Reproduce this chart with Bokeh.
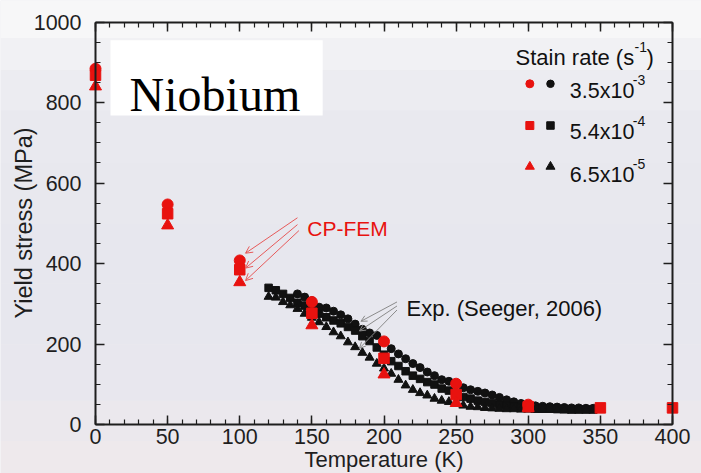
import math
from bokeh.plotting import figure
from bokeh.models import (Range1d, SingleIntervalTicker, LinearAxis, Arrow, OpenHead,
                          CustomJSTickFormatter)
from bokeh.core.properties import value
from bokeh.embed import file_html
from bokeh.resources import INLINE

FONT = "Liberation Sans"

# ---------------- data ----------------
# CP-FEM simulation (red)
cp_circle_T = [0, 50, 100, 150, 200, 250, 300]
cp_circle_Y = [884, 547, 408, 305, 207, 102, 50]
cp_square_T = [0, 50, 100, 150, 200, 250, 300, 350, 400]
cp_square_Y = [868, 524, 385, 277, 165, 75, 45, 42, 42]
cp_triangle_T = [0, 50, 100, 150, 200, 250, 300]
cp_triangle_Y = [840, 495, 354, 247, 125, 54, 42]

# Experiment (Seeger, 2006) (black)
exp_circle_T = [140, 145, 150, 155, 160, 165, 170, 175, 180, 185, 190, 195, 200, 205,
                210, 215, 220, 225, 230, 235, 240, 245, 250, 255, 260, 265, 270, 275,
                280, 285, 290, 295, 300, 305, 310, 315, 320, 325, 330, 335, 340, 345]
exp_circle_Y = [325, 317, 308, 292, 290, 282, 273, 263, 250, 237, 228, 222, 207, 189,
                176, 164, 152, 142, 131, 122, 112, 108, 100, 92, 87, 83, 79, 74,
                68, 62, 57, 53, 50, 47, 46, 45, 44, 43, 42, 42, 41, 41]
exp_square_T = [120, 125, 130, 135, 140, 145, 150, 155, 160, 165, 170, 175, 180, 185,
                190, 195, 200, 205, 210, 215, 220, 225, 230, 235, 240, 245, 250, 255,
                260, 265, 270, 275, 280, 285, 290, 295, 300, 305, 310, 315, 320, 325,
                330, 335, 340, 345]
exp_square_Y = [340, 334, 325, 315, 303, 296, 286, 276, 267, 259, 252, 243, 234, 220,
                208, 192, 174, 158, 146, 133, 122, 114, 106, 100, 90, 85, 77, 69,
                65, 60, 57, 54, 50, 47, 45, 43, 42, 41, 40, 40, 39, 39,
                38, 38, 38, 38]
exp_triangle_T = [120, 125, 130, 135, 140, 145, 150, 155, 160, 165, 170, 175, 180, 185,
                  190, 195, 200, 205, 210, 215, 220, 225, 230, 235, 240, 245, 250, 255,
                  260, 265, 270, 275, 280, 285, 290, 295, 300, 305, 310, 315, 320, 325,
                  330, 335, 340, 345]
exp_triangle_Y = [318, 316, 305, 297, 288, 276, 266, 255, 243, 230, 220, 205, 193, 179,
                  167, 152, 140, 127, 112, 98, 87, 79, 73, 65, 60, 57, 52, 48,
                  45, 44, 42, 41, 40, 39, 39, 38, 38, 37, 37, 37, 37, 36,
                  36, 36, 36, 36]

legend_title = "Stain rate (s"
legend_title_sup = "-1"
legend_mantissas = ["3.5x10", "5.4x10", "6.5x10"]
legend_exponents = ["-3", "-4", "-5"]
legend_markers = ["circle", "square", "triangle"]

x_label = "Temperature (K)"
y_label = "Yield stress (MPa)"

# ---------------- figure ----------------
RED = "#e8120f"
BLACK = "#111111"
AX = "#1e1e1e"

# frame covers the whole canvas; axes sit at fixed data locations inside it
X0, X1 = -65.86, 420.10
Y0, Y1 = -120.9, 1053.4
p = figure(width=701, height=473, output_backend="svg", toolbar_location=None,
           x_range=Range1d(X0, X1), y_range=Range1d(Y0, Y1),
           min_border=0, min_border_left=0, min_border_right=0,
           min_border_top=0, min_border_bottom=0)
p.background_fill_color = "#eaeaef"
p.border_fill_color = "#eaeaef"
p.outline_line_color = None
p.grid.visible = False

# soft vertical background shading (decoration only)
shade_edges = [Y1, 960, 880, 780, 650, 500, 350, 200, 60, -40, Y0]
shade_cols = ["#f7f7f8", "#f1f1f4", "#ececf1", "#e9e9ef", "#e8e8ee", "#e7e7ee",
              "#e7e7ee", "#e8e7ee", "#ebe8ed", "#eee9ec"]
p.quad(left=[X0] * len(shade_cols), right=[X1] * len(shade_cols),
       top=shade_edges[:-1], bottom=shade_edges[1:], fill_color=shade_cols,
       line_color=None, level="image")

def style_axis(ax, interval, minor, labels=True):
    ax.ticker = SingleIntervalTicker(interval=interval, num_minor_ticks=minor)
    ax.major_tick_in = 9
    ax.major_tick_out = 0
    ax.minor_tick_in = 5
    ax.minor_tick_out = 0
    ax.axis_line_width = 2
    ax.axis_line_color = AX
    ax.major_tick_line_color = AX
    ax.minor_tick_line_color = AX
    ax.major_tick_line_width = 1.5
    ax.minor_tick_line_width = 1.2
    ax.major_label_text_font = FONT
    ax.major_label_text_color = AX
    if labels:
        ax.major_label_text_font_size = "21.5px"
    else:
        ax.major_label_text_font_size = "0px"
        ax.formatter = CustomJSTickFormatter(code="return ''")
        ax.major_label_standoff = 0

xa = p.xaxis[0]
style_axis(xa, 50, 5)
xa.fixed_location = 0
xa.bounds = (0, 400)
xa.major_label_standoff = 4

ya = p.yaxis[0]
style_axis(ya, 200, 4)
ya.fixed_location = 0
ya.bounds = (0, 1000)
ya.major_label_standoff = 14

top = LinearAxis()
style_axis(top, 50, 5, labels=False)
top.fixed_location = 1000
top.bounds = (0, 400)
p.add_layout(top, "above")

right = LinearAxis()
style_axis(right, 200, 4, labels=False)
right.fixed_location = 400
right.bounds = (0, 1000)
p.add_layout(right, "right")

# white box behind the title
p.quad(left=[10.4], right=[157.5], bottom=[768], top=[955], fill_color="white",
       line_color=None, level="image")

# experimental data (black)
p.scatter(exp_circle_T, exp_circle_Y, marker="circle", size=8, color=BLACK)
p.scatter(exp_square_T, exp_square_Y, marker="square", size=7.5, color=BLACK)
p.scatter(exp_triangle_T, exp_triangle_Y, marker="triangle", size=9, color=BLACK)

# CP-FEM (red)
p.scatter(cp_circle_T, cp_circle_Y, marker="circle", size=11, color=RED)
p.scatter(cp_square_T, cp_square_Y, marker="square", size=10.5, color=RED)
p.scatter(cp_triangle_T, cp_triangle_Y, marker="triangle", size=12, color=RED)

# arrows
for xs, ys, xe, ye in [(140, 514, 104, 426), (140, 497, 104, 389), (141, 482, 104, 358)]:
    p.add_layout(Arrow(end=OpenHead(size=7, line_color="#e65a5a", line_width=1),
                       x_start=xs, y_start=ys, x_end=xe, y_end=ye,
                       line_color="#e65a5a", line_width=1))
for xs, ys, xe, ye in [(209, 305, 184, 257), (209, 295, 183, 233), (209, 285, 183, 190)]:
    p.add_layout(Arrow(end=OpenHead(size=6, line_color="#8a8a8a", line_width=1),
                       x_start=xs, y_start=ys, x_end=xe, y_end=ye,
                       line_color="#8a8a8a", line_width=1))

# texts
p.text(x=[23.6], y=[820], text=["Niobium"], text_font=value("Liberation Serif"),
       text_font_size="48px", text_color="#000000", text_align="left",
       text_baseline="alphabetic")
p.text(x=[146.8], y=[486.6], text=["CP-FEM"], text_font=value(FONT),
       text_font_size="21px", text_color=RED, text_align="left",
       text_baseline="alphabetic")
p.text(x=[215.6], y=[289.5], text=["Exp. (Seeger, 2006)"], text_font=value(FONT),
       text_font_size="22px", text_color=BLACK, text_align="left",
       text_baseline="alphabetic")

# legend
p.text(x=[291.2], y=[912.6], text=[legend_title], text_font=value(FONT),
       text_font_size="22px", text_color=BLACK, text_align="left", text_baseline="alphabetic")
p.text(x=[291.2], y=[912.6], text=[legend_title_sup], x_offset=[119], y_offset=[-10],
       text_font=value(FONT), text_font_size="14px", text_color=BLACK,
       text_align="left", text_baseline="alphabetic")
p.text(x=[291.2], y=[912.6], text=[")"], x_offset=[131],
       text_font=value(FONT), text_font_size="22px", text_color=BLACK,
       text_align="left", text_baseline="alphabetic")

row_marker_y = [846.6, 743, 641]
row_text_y = [828, 726.4, 621.4]
for m, yy in zip(legend_markers, row_marker_y):
    p.scatter([301.1], [yy], marker=m, size=9 if m == "triangle" else 8, color=RED)
    p.scatter([315.4], [yy], marker=m, size=9 if m == "triangle" else 7.5, color=BLACK)
p.text(x=[328.8] * 3, y=row_text_y, text=legend_mantissas, text_font=value(FONT),
       text_font_size="21.5px", text_color=BLACK, text_align="left", text_baseline="alphabetic")
p.text(x=[328.8] * 3, y=row_text_y, text=legend_exponents, x_offset=[63] * 3,
       y_offset=[-11] * 3, text_font=value(FONT), text_font_size="14px",
       text_color=BLACK, text_align="left", text_baseline="alphabetic")

# axis titles
p.text(x=[200], y=[-85], text=[x_label], text_font=value(FONT), text_font_size="22px",
       text_color=AX, text_align="center", text_baseline="middle")
p.text(x=[-49.9], y=[501], text=[y_label], text_font=value(FONT), text_font_size="23.5px",
       text_color=AX, text_align="center", text_baseline="middle", angle=[math.pi / 2])

open("out.html", "w").write(file_html(p, INLINE))
